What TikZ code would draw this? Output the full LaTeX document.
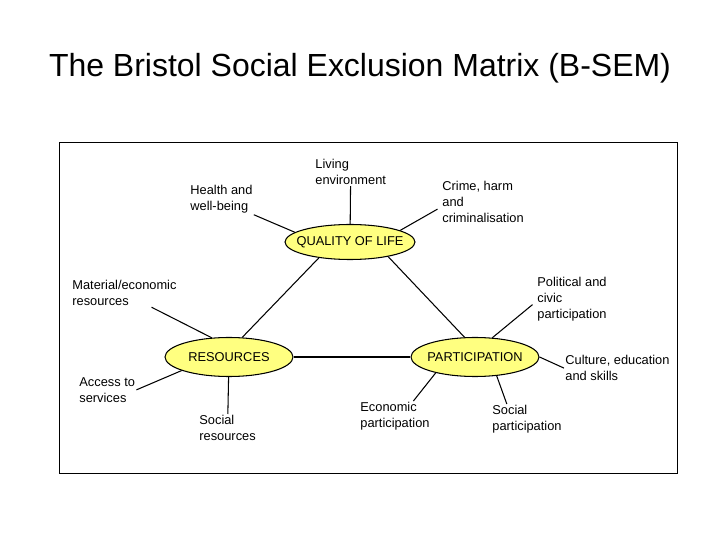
\documentclass[tikz,border=0pt]{standalone}
\usepackage{fontspec}
\setmainfont{Liberation Sans}
\usepackage{tikz}
\usetikzlibrary{shapes.geometric}
\definecolor{hubfill}{RGB}{255,255,128}

\begin{document}
\begin{tikzpicture}[x=0.02cm, y=-0.02cm, semithick]
            \tikzset{
                hub/.style={ellipse, draw, fill=hubfill, inner xsep=-5pt, inner ysep=0pt, minimum width=2.56cm, minimum height=0.78cm, font=\fontsize{7.3}{9}\selectfont},
                lbl/.style={anchor=north west, align=left, inner sep=0.5pt, font=\fontsize{7.3}{9.1}\selectfont}
            };
            \useasboundingbox (0, 0) rectangle (720, 540);
            \node[font=\fontsize{18.2}{22}\selectfont] (title) at (360, 68) {The Bristol Social Exclusion Matrix (B-SEM)};
            \draw[thin] (59, 142) rectangle (677, 473);
            % the three hubs
            \node[hub, minimum width=2.6cm, minimum height=0.7cm] (qol) at (350, 242) {QUALITY OF LIFE};
            \node[hub] (res) at (229, 357) {RESOURCES};
            \node[hub] (part) at (475, 357) {PARTICIPATION};
            \draw (qol.207) -- (res.56);
            \draw (qol.339) -- (part.118);
            \draw (res.east) -- (part.west);
            % quality of life
            \node[lbl] (living) at (314, 158) {Living\\environment};
            \node[lbl] (health) at (189, 184) {Health and\\well-being};
            \node[lbl] (crime) at (441, 180) {Crime, harm\\and\\criminalisation};
            \draw (living) -- (qol);
            \draw (health.south east) -- (qol.170);
            \draw ([xshift=-2pt, yshift=-4pt]crime.west) -- (qol.13);
            % resources
            \node[lbl] (material) at (71, 279) {Material/economic\\resources};
            \node[lbl] (access) at (78, 376) {Access to\\services};
            \node[lbl] (socres) at (198, 414) {Social\\resources};
            \draw ([xshift=-15pt]material.south east) -- (res.132);
            \draw (access.east) -- (res.196);
            \draw (res) -- (socres);
            % participation
            \node[lbl] (political) at (536, 276) {Political and\\civic\\participation};
            \node[lbl] (culture) at (564, 354) {Culture, education\\and skills};
            \node[lbl] (econ) at (359, 401) {Economic\\participation};
            \node[lbl] (socpart) at (491, 404) {Social\\participation};
            \draw ([xshift=-2pt, yshift=-3pt]political.west) -- (part.48);
            \draw (culture.west) -- (part.east);
            \draw ([xshift=-10pt]econ.north east) -- (part.202);
            \draw ([xshift=9pt]socpart.north west) -- (part.319);
        \end{tikzpicture}
\end{document}
